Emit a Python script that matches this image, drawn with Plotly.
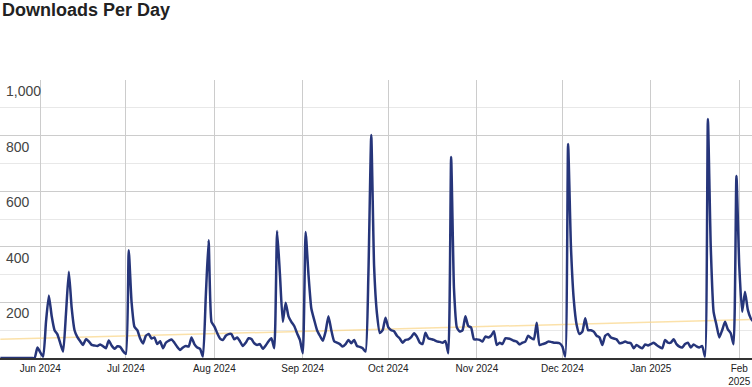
import plotly.graph_objects as go
import pandas as pd

# ---- data ----
start_date = "2024-05-18"
downloads = [
    0, 0, 0, 0, 0, 0, 0, 0, 0, 0, 0, 0, 0, 38, 20, 5, 130, 225, 150, 100,
    85, 53, 23, 160, 310, 180, 100, 75, 60, 47, 68, 60, 47, 45, 43, 49, 42, 35, 63, 45,
    33, 42, 40, 25, 15, 388, 200, 112, 100, 70, 52, 80, 86, 70, 74, 50, 60, 35, 55, 62,
    67, 55, 40, 29, 38, 43, 41, 74, 50, 38, 33, 5, 220, 424, 130, 114, 90, 70, 65, 80,
    86, 86, 67, 74, 60, 43, 55, 71, 68, 53, 47, 50, 33, 45, 60, 71, 35, 457, 300, 130,
    199, 150, 130, 115, 89, 65, 17, 453, 300, 178, 137, 100, 80, 62, 95, 150, 100, 60, 55, 50,
    41, 50, 65, 53, 65, 43, 40, 35, 23, 300, 802, 330, 160, 90, 100, 145, 110, 100, 96, 80,
    70, 55, 65, 67, 75, 89, 77, 55, 50, 91, 71, 68, 65, 60, 58, 55, 61, 17, 723, 250,
    110, 95, 100, 150, 115, 110, 67, 67, 65, 59, 77, 74, 80, 96, 47, 55, 50, 71, 70, 67,
    62, 59, 49, 55, 59, 80, 72, 67, 127, 47, 50, 53, 59, 58, 55, 55, 53, 41, 5, 770,
    400, 208, 119, 86, 95, 143, 100, 100, 95, 80, 74, 47, 80, 86, 74, 70, 67, 53, 55, 59,
    55, 53, 35, 47, 40, 35, 49, 45, 50, 55, 47, 40, 35, 65, 55, 55, 67, 50, 41, 38,
    50, 55, 38, 49, 42, 38, 43, 5, 860, 400, 166, 119, 74, 100, 130, 103, 89, 49, 655, 330,
    166, 238, 173, 143, 130,
]
dates = pd.date_range(start_date, periods=len(downloads), freq="D")

trend_dates = [dates[0], dates[-1]]
trend_values = [67, 139]

x_tick_dates = ["2024-06-01", "2024-07-01", "2024-08-01", "2024-09-01", "2024-10-01",
                "2024-11-01", "2024-12-01", "2025-01-01", "2025-02-01"]
x_tick_labels = ["Jun 2024", "Jul 2024", "Aug 2024", "Sep 2024", "Oct 2024",
                 "Nov 2024", "Dec 2024", "Jan 2025", "Feb<br>2025"]
y_tick_values = [200, 400, 600, 800, 1000]
y_tick_labels = ["200", "400", "600", "800", "1,000"]
y_minor_values = [100, 300, 500, 700, 900]

fig = go.Figure()
fig.add_trace(go.Scatter(
    x=trend_dates, y=trend_values, mode="lines",
    line=dict(color="rgba(250,215,140,0.75)", width=1.5),
    hoverinfo="skip", showlegend=False,
))
fig.add_trace(go.Scatter(
    x=dates, y=downloads, mode="lines",
    line=dict(color="#26357a", width=2.5, shape="spline", smoothing=0.5),
    showlegend=False,
))

annotations = [dict(
    text="<b>Downloads Per Day</b>", xref="paper", yref="paper",
    x=0, y=1 + (80 - 10) / 278, xanchor="left", yanchor="middle",
    showarrow=False, font=dict(size=18, color="#222"),
)]
for v, lab in zip(y_tick_values, y_tick_labels):
    annotations.append(dict(
        text=lab, xref="paper", yref="y", x=0, y=v,
        xanchor="left", yanchor="top", xshift=4, yshift=-1,
        showarrow=False, font=dict(size=14, color="#444"),
    ))

fig.update_layout(
    width=752, height=387,
    margin=dict(l=0, r=0, t=80, b=29, autoexpand=False),
    plot_bgcolor="white", paper_bgcolor="white",
    font=dict(family="Liberation Sans, Arial, sans-serif", color="#333"),
    annotations=annotations,
)
fig.update_xaxes(
    range=["2024-05-17 21:00", "2025-02-05 11:00"],
    tickvals=x_tick_dates, ticktext=x_tick_labels,
    showgrid=True, gridcolor="#cccccc", gridwidth=1,
    showline=True, linecolor="#333333", linewidth=1.5,
    ticks="", tickfont=dict(size=10, color="#222"),
    zeroline=False, automargin=False,
)
fig.update_yaxes(
    range=[0, 1000],
    tickvals=y_tick_values, showticklabels=False,
    showgrid=True, gridcolor="#cccccc", gridwidth=1,
    minor=dict(tickvals=y_minor_values, showgrid=True, gridcolor="#e8e8e8", gridwidth=1),
    zeroline=False, showline=False, ticks="", automargin=False,
)

fig.write_html(
    "out.html",
    config={"displayModeBar": False},
    post_script="document.body.style.margin='0';document.body.style.overflow='hidden';",
)
